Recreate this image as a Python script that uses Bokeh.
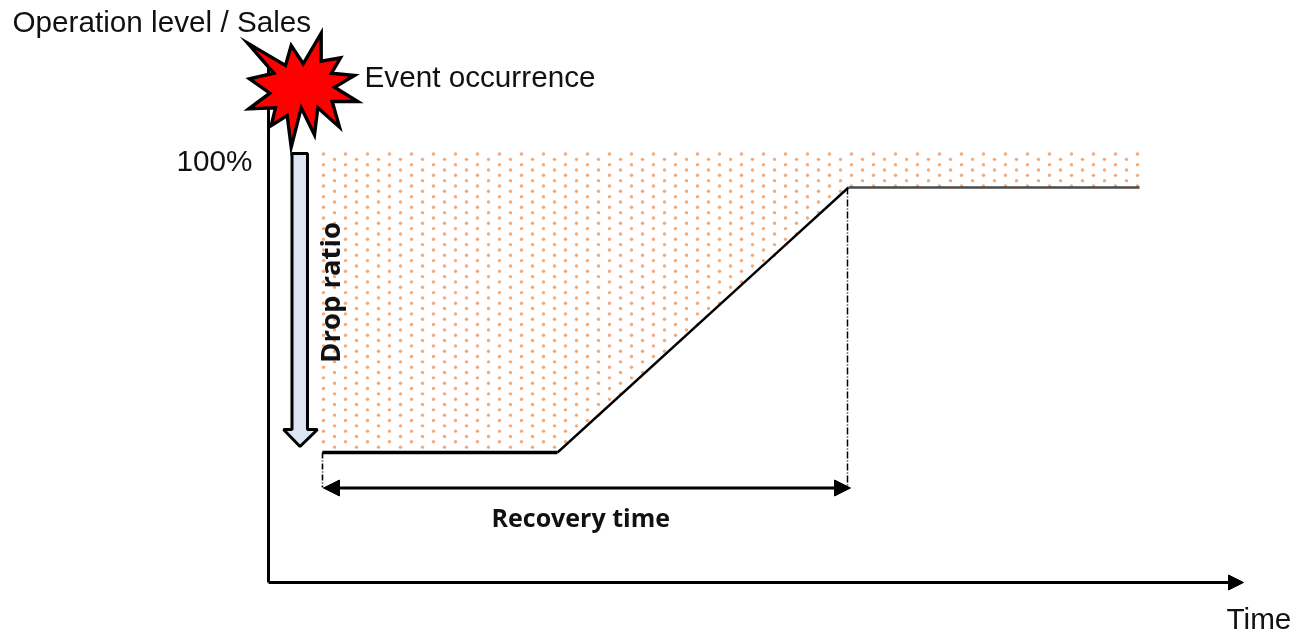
import numpy as np
from bokeh.plotting import figure
from bokeh.models import Arrow, NormalHead, Range1d
from bokeh.core.properties import value
from bokeh.embed import file_html
from bokeh.resources import INLINE

W, H = 1295, 634

# Pixel-like diagram coordinates (y grows downward, as the range is inverted)
level_x = [322, 557, 848, 1139]
level_y = [452, 452, 187, 187]
area_top = 153

star_x = [247.3, 285, 290.7, 302.7, 320.7, 320.7, 340, 331, 354, 334, 357.3, 331.7, 339, 317.3, 314, 300.7, 290.7, 286.7, 270.7, 275, 248.3, 269.3, 249, 273.3]
star_y = [42.7, 65, 45, 63.3, 32.7, 60.7, 57.3, 72.7, 75, 86.7, 101, 101, 126.7, 107.3, 134.3, 107.3, 146.7, 115, 125, 107.3, 108.3, 92.7, 78.3, 72.7]

drop_x = [291.5, 307, 307, 317, 299.5, 283, 291.5]
drop_y = [153, 153, 429, 429, 446, 429, 429]

label_text = ["Operation level / Sales", "Event occurrence", "100%", "Time"]
label_x = [12, 364, 176, 1226]
label_y = [21, 76, 160, 618]

p = figure(width=W, height=H, output_backend="svg", toolbar_location=None,
           x_range=Range1d(0, W), y_range=Range1d(H, 0),
           min_border=0, outline_line_color=None, background_fill_color="white")
p.axis.visible = False
p.grid.visible = False
p.styles = {"position": "fixed", "left": "0px", "top": "0px"}

# Dotted texture above the level curve
col_step, row_step = 22.0, 5.33
rows = np.arange(area_top + 0.5, 452, row_step)
dx, dy = [], []
for i, y in enumerate(rows):
    xs = np.arange(323 + (11 if i % 2 else 0), 1140, col_step)
    limit_y = np.interp(xs, level_x, level_y)
    keep = xs[y <= limit_y + 0.5]
    dx.extend(keep.tolist())
    dy.extend([y] * len(keep))
p.scatter(dx, dy, marker="circle", size=3.4, fill_color="#F08C4A", fill_alpha=0.75, line_color=None)

# Guides
p.line([322, 322], [452, 487], line_color="black", line_width=1.6, line_dash="6 2 1 2")
p.line([847, 847], [187, 487], line_color="black", line_width=1.5, line_dash="7 2 1 2")

# Axes
p.line([268, 268], [582, 60], line_color="black", line_width=3)
p.add_layout(Arrow(x_start=268, y_start=582, x_end=1243, y_end=582, line_color="black", line_width=3,
                   end=NormalHead(size=15, fill_color="black", line_color="black")))

# Level curve
p.line(level_x[:2], level_y[:2], line_color="black", line_width=3.6)
p.line(level_x[1:3], level_y[1:3], line_color="black", line_width=2.4)
p.line(level_x[2:], level_y[2:], line_color="#4a4a4a", line_width=2.6)

# Recovery arrow
p.add_layout(Arrow(x_start=323, y_start=487.5, x_end=850, y_end=487.5, line_color="black", line_width=3,
                   start=NormalHead(size=16, fill_color="black", line_color="black"),
                   end=NormalHead(size=16, fill_color="black", line_color="black")))

# Drop block arrow
p.patch(drop_x, drop_y, fill_color="#DCE6F2", line_color="black", line_width=3)

# Event star
p.patch(star_x, star_y, fill_color="#FF0000", line_color="black", line_width=3.4, line_join="miter")

# Labels
p.text(label_x, label_y, text=label_text, text_font=value("Liberation Sans"), text_font_size="29.7px",
       text_color="#111111", text_baseline="middle", text_align="left")
p.text([491], [516.5], text=["Recovery time"], text_font=value("Open Sans"), text_font_style="bold",
       text_font_size="25px", text_color="#111111", text_baseline="middle", text_align="left")
p.text([329], [292], text=["Drop ratio"], text_font=value("Open Sans"), text_font_style="bold",
       text_font_size="27.5px", text_color="#111111", text_baseline="middle", text_align="center", angle=np.pi / 2)

open("out.html", "w").write(file_html(p, INLINE))
